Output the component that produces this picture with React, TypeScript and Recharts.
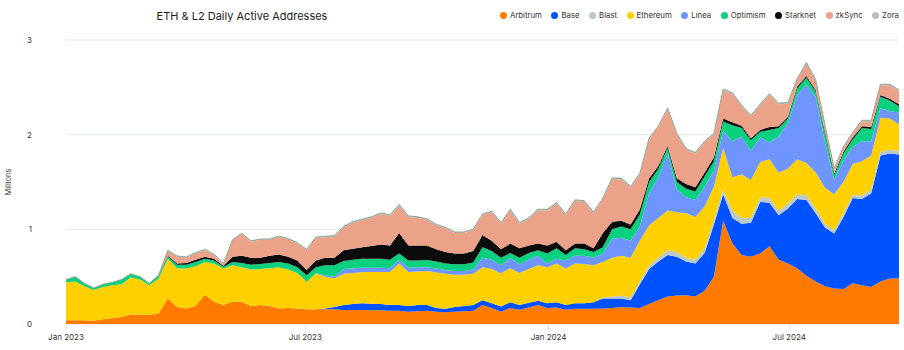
import React from 'react'
import { AreaChart, Area, XAxis, YAxis, CartesianGrid, Legend } from 'recharts'

const DAY = 86400000
const START = Date.UTC(2023, 0, 1)

// weekly samples, in millions
const arbitrum = [
  0.04, 0.04, 0.04, 0.035, 0.05, 0.06, 0.075, 0.1, 0.1, 0.095,
  0.11, 0.27, 0.18, 0.165, 0.19, 0.31, 0.235, 0.2, 0.235, 0.235,
  0.19, 0.2, 0.19, 0.165, 0.17, 0.165, 0.155, 0.155, 0.155, 0.155,
  0.147, 0.147, 0.147, 0.145, 0.145, 0.14, 0.14, 0.13, 0.135, 0.14,
  0.13, 0.125, 0.13, 0.135, 0.14, 0.2, 0.17, 0.13, 0.17, 0.15,
  0.175, 0.2, 0.17, 0.175, 0.15, 0.16, 0.16, 0.16, 0.165, 0.17,
  0.18, 0.175, 0.17, 0.21, 0.25, 0.29, 0.3, 0.305, 0.29, 0.35,
  0.5, 1.09, 0.85, 0.73, 0.71, 0.745, 0.82, 0.68, 0.64, 0.59,
  0.51, 0.45, 0.4, 0.375, 0.37, 0.43, 0.41, 0.39, 0.45, 0.48,
  0.48,
]
const base = [
  0, 0, 0, 0, 0, 0, 0, 0, 0, 0,
  0, 0, 0, 0, 0, 0, 0, 0, 0, 0,
  0, 0, 0, 0, 0, 0, 0, 0, 0.01, 0.025,
  0.053, 0.063, 0.073, 0.07, 0.065, 0.06, 0.06, 0.06, 0.065, 0.06,
  0.04, 0.035, 0.05, 0.055, 0.06, 0.05, 0.05, 0.055, 0.06, 0.05,
  0.05, 0.045, 0.05, 0.055, 0.05, 0.06, 0.06, 0.07, 0.105, 0.1,
  0.09, 0.075, 0.25, 0.37, 0.41, 0.44, 0.41, 0.355, 0.35, 0.4,
  0.55, 0.28, 0.27, 0.33, 0.36, 0.545, 0.46, 0.47, 0.58, 0.73,
  0.8, 0.72, 0.62, 0.58, 0.76, 0.9, 0.91, 0.99, 1.33, 1.32,
  1.31,
]
const blast = [
  0, 0, 0, 0, 0, 0, 0, 0, 0, 0,
  0, 0, 0, 0, 0, 0, 0, 0, 0, 0,
  0, 0, 0, 0, 0, 0, 0, 0, 0, 0,
  0, 0, 0, 0, 0, 0, 0, 0, 0, 0,
  0, 0, 0, 0, 0, 0, 0, 0, 0, 0,
  0, 0, 0, 0, 0, 0, 0, 0, 0.01, 0.02,
  0.03, 0.03, 0.03, 0.04, 0.04, 0.05, 0.05, 0.04, 0.04, 0.05,
  0.05, 0.05, 0.08, 0.06, 0.05, 0.05, 0.05, 0.05, 0.05, 0.05,
  0.05, 0.05, 0.04, 0.035, 0.04, 0.03, 0.04, 0.04, 0.04, 0.04,
  0.04,
]
const ethereum = [
  0.4, 0.41, 0.36, 0.325, 0.34, 0.35, 0.345, 0.39, 0.37, 0.315,
  0.37, 0.42, 0.41, 0.42, 0.42, 0.345, 0.405, 0.385, 0.385, 0.365,
  0.385, 0.38, 0.4, 0.435, 0.405, 0.375, 0.29, 0.38, 0.335, 0.3,
  0.33, 0.33, 0.33, 0.335, 0.34, 0.35, 0.44, 0.36, 0.355, 0.36,
  0.375, 0.37, 0.34, 0.33, 0.33, 0.35, 0.36, 0.35, 0.36, 0.34,
  0.355, 0.375, 0.38, 0.41, 0.385, 0.42, 0.415, 0.39, 0.375, 0.41,
  0.42, 0.42, 0.43, 0.42, 0.42, 0.42, 0.42, 0.47, 0.45, 0.44,
  0.35, 0.44, 0.35, 0.46, 0.4, 0.37, 0.41, 0.4, 0.37, 0.37,
  0.34, 0.38, 0.38, 0.38, 0.33, 0.33, 0.36, 0.36, 0.36, 0.33,
  0.28,
]
const linea = [
  0, 0, 0, 0, 0, 0, 0, 0, 0, 0,
  0, 0, 0, 0, 0, 0, 0, 0, 0, 0,
  0, 0, 0, 0, 0, 0, 0, 0, 0.015, 0.02,
  0.05, 0.05, 0.045, 0.045, 0.045, 0.04, 0.04, 0.045, 0.045, 0.04,
  0.04, 0.04, 0.04, 0.04, 0.045, 0.1, 0.1, 0.085, 0.11, 0.09,
  0.1, 0.1, 0.04, 0.05, 0.085, 0.08, 0.085, 0.08, 0.09, 0.2,
  0.19, 0.18, 0.15, 0.34, 0.43, 0.6, 0.24, 0.17, 0.18, 0.21,
  0.17, 0.18, 0.38, 0.4, 0.31, 0.26, 0.18, 0.38, 0.48, 0.68,
  0.83, 0.8, 0.48, 0.15, 0.23, 0.18, 0.21, 0.15, 0.1, 0.08,
  0.125,
]
const optimism = [
  0.03, 0.05, 0.03, 0.02, 0.03, 0.03, 0.05, 0.04, 0.03, 0.02,
  0.035, 0.02, 0.035, 0.04, 0.045, 0.035, 0.03, 0.02, 0.035, 0.045,
  0.05, 0.055, 0.055, 0.055, 0.065, 0.06, 0.07, 0.065, 0.105, 0.12,
  0.085, 0.09, 0.095, 0.095, 0.095, 0.09, 0.065, 0.075, 0.07, 0.075,
  0.075, 0.07, 0.07, 0.07, 0.075, 0.11, 0.09, 0.08, 0.05, 0.07,
  0.07, 0.06, 0.105, 0.11, 0.06, 0.08, 0.07, 0.06, 0.065, 0.1,
  0.12, 0.12, 0.13, 0.12, 0.09, 0.06, 0.08, 0.09, 0.09, 0.11,
  0.1, 0.1, 0.17, 0.09, 0.11, 0.06, 0.13, 0.09, 0.05, 0.07,
  0.07, 0.05, 0.09, 0.05, 0.07, 0.08, 0.14, 0.13, 0.12, 0.11,
  0.065,
]
const starknet = [
  0, 0, 0, 0, 0, 0, 0, 0, 0, 0,
  0, 0.01, 0.015, 0.02, 0.025, 0.02, 0.02, 0.01, 0.055, 0.075,
  0.075, 0.065, 0.075, 0.08, 0.07, 0.07, 0.055, 0.07, 0.08, 0.08,
  0.115, 0.115, 0.12, 0.135, 0.15, 0.15, 0.215, 0.16, 0.16, 0.155,
  0.13, 0.12, 0.115, 0.115, 0.12, 0.13, 0.11, 0.09, 0.1, 0.1,
  0.08, 0.07, 0.085, 0.07, 0.05, 0.05, 0.06, 0.04, 0.15, 0.08,
  0.06, 0.05, 0.05, 0.04, 0.03, 0.02, 0.04, 0.05, 0.045, 0.04,
  0.04, 0.03, 0.03, 0.025, 0.02, 0.02, 0.03, 0.02, 0.02, 0.02,
  0.02, 0.02, 0.02, 0.02, 0.02, 0.02, 0.02, 0.02, 0.02, 0.02,
  0.02,
]
const zksync = [
  0, 0, 0, 0, 0, 0, 0, 0, 0, 0,
  0, 0.05, 0.07, 0.055, 0.065, 0.07, 0.04, 0.015, 0.175, 0.23,
  0.17, 0.19, 0.17, 0.185, 0.185, 0.18, 0.21, 0.24, 0.215, 0.22,
  0.24, 0.275, 0.285, 0.295, 0.32, 0.31, 0.29, 0.3, 0.29, 0.27,
  0.25, 0.25, 0.215, 0.215, 0.22, 0.21, 0.3, 0.27, 0.35, 0.26,
  0.28, 0.35, 0.37, 0.4, 0.37, 0.45, 0.44, 0.37, 0.36, 0.45,
  0.44, 0.39, 0.37, 0.41, 0.41, 0.39, 0.46, 0.36, 0.355, 0.32,
  0.24, 0.3, 0.3, 0.205, 0.23, 0.26, 0.34, 0.23, 0.14, 0.07,
  0.13, 0.1, 0.06, 0.04, 0.04, 0.04, 0.05, 0.06, 0.1, 0.14,
  0.14,
]
const zora = [
  0, 0, 0, 0, 0, 0, 0, 0, 0, 0,
  0, 0.008, 0.008, 0.008, 0.008, 0.008, 0.008, 0.008, 0.008, 0.008,
  0.008, 0.008, 0.008, 0.008, 0.008, 0.008, 0.008, 0.008, 0.012, 0.012,
  0.012, 0.012, 0.012, 0.012, 0.012, 0.012, 0.012, 0.012, 0.012, 0.012,
  0.012, 0.012, 0.012, 0.012, 0.012, 0.012, 0.012, 0.012, 0.012, 0.012,
  0.012, 0.012, 0.012, 0.012, 0.012, 0.012, 0.012, 0.012, 0.012, 0.012,
  0.012, 0.012, 0.012, 0.012, 0.012, 0.012, 0.012, 0.012, 0.012, 0.012,
  0.012, 0.012, 0.012, 0.012, 0.012, 0.012, 0.012, 0.012, 0.012, 0.012,
  0.012, 0.012, 0.012, 0.012, 0.012, 0.012, 0.012, 0.012, 0.012, 0.012,
  0.012,
]

const X_TICKS = ['2023-01-01', '2023-07-01', '2024-01-01', '2024-07-01']
const X_TICK_LABELS = ['Jan 2023', 'Jul 2023', 'Jan 2024', 'Jul 2024']
const Y_TICKS = [0, 1, 2, 3]

const SERIES = [
  { key: 'arbitrum', name: 'Arbitrum', fill: '#ff7a00', dot: '#ff7a00', values: arbitrum },
  { key: 'base', name: 'Base', fill: '#0052ff', dot: '#0052ff', values: base },
  { key: 'blast', name: 'Blast', fill: '#bccac7', dot: '#bccac7', values: blast },
  { key: 'ethereum', name: 'Ethereum', fill: '#ffd000', dot: '#ffd000', values: ethereum },
  { key: 'linea', name: 'Linea', fill: '#6f96ff', dot: '#6f96ff', values: linea },
  { key: 'optimism', name: 'Optimism', fill: '#0bd080', dot: '#0bd080', values: optimism },
  { key: 'starknet', name: 'Starknet', fill: '#0c0c0c', dot: '#0c0c0c', values: starknet },
  { key: 'zksync', name: 'zkSync', fill: '#eca189', dot: '#eca189', values: zksync },
  { key: 'zora', name: 'Zora', fill: '#a9b7aa', dot: '#bdbdbd', values: zora },
]

const FONT = 'Inter, "Noto Sans", sans-serif'

const data = arbitrum.map((_, i) => {
  const row: Record<string, number> = { t: START + i * 7 * DAY }
  SERIES.forEach(s => { row[s.key] = s.values[i] })
  return row
})

const tickTimes = X_TICKS.map(d => Date.parse(d))

const formatTick = (v: number) => {
  const idx = tickTimes.indexOf(v)
  return idx >= 0 ? X_TICK_LABELS[idx] : ''
}

const LegendContent = () => (
  <div style={{ display: 'flex', alignItems: 'center', fontFamily: FONT, fontSize: 7.8, color: '#333', whiteSpace: 'nowrap' }}>
    {SERIES.map((s, i) => (
      <span key={s.key} style={{ display: 'flex', alignItems: 'center', marginLeft: i === 0 ? 0 : 9.5 }}>
        <span style={{ width: 7, height: 7, borderRadius: '50%', background: s.dot, marginRight: 3 }} />
        {s.name}
      </span>
    ))}
  </div>
)

const App: React.FC = () => {
  return (
    <div style={{ position: 'absolute', top: 0, left: 0, width: 904, height: 350, background: '#fff' }}>
      <div style={{
        position: 'absolute', top: 9, left: 0, width: 484, textAlign: 'center',
        fontFamily: FONT, fontSize: 11, color: '#222', zIndex: 2,
      }}>
        ETH &amp; L2 Daily Active Addresses
      </div>
      <AreaChart
        width={904}
        height={350}
        data={data}
        margin={{ top: 40, right: 5, bottom: 6, left: 0 }}
      >
        <CartesianGrid vertical={false} stroke="#e3e8e8" />
        <XAxis
          dataKey="t"
          type="number"
          scale="time"
          domain={['dataMin', 'dataMax']}
          ticks={tickTimes}
          tickFormatter={formatTick}
          height={20}
          axisLine={false}
          tickLine={{ stroke: '#dde2e2' }}
          tickSize={6}
          tickMargin={4}
          tick={{ fontSize: 8, fill: '#333', fontFamily: FONT }}
        />
        <YAxis
          width={66}
          domain={[0, 3]}
          ticks={Y_TICKS}
          axisLine={false}
          tickLine={false}
          tickMargin={28}
          tick={{ fontSize: 8, fill: '#333', fontFamily: FONT }}
          label={{
            content: () => (
              <text
                x={8}
                y={182}
                transform="rotate(-90 8 182)"
                textAnchor="middle"
                dominantBaseline="central"
                fontSize={7.5}
                fill="#444"
                fontFamily={FONT}
              >
                Millions
              </text>
            ),
          }}
        />
        <Legend
          layout="horizontal"
          verticalAlign="middle"
          align="center"
          content={<LegendContent />}
          wrapperStyle={{ top: 10, left: 'auto', right: 5, width: 'auto', height: 'auto' }}
        />
        {SERIES.map(s => (
          <Area
            key={s.key}
            type="linear"
            dataKey={s.key}
            name={s.name}
            stackId="1"
            fill={s.fill}
            fillOpacity={1}
            stroke={s.key === 'zora' ? '#93a594' : 'none'}
            strokeWidth={1}
            isAnimationActive={false}
          />
        ))}
      </AreaChart>
    </div>
  )
}

export default App
